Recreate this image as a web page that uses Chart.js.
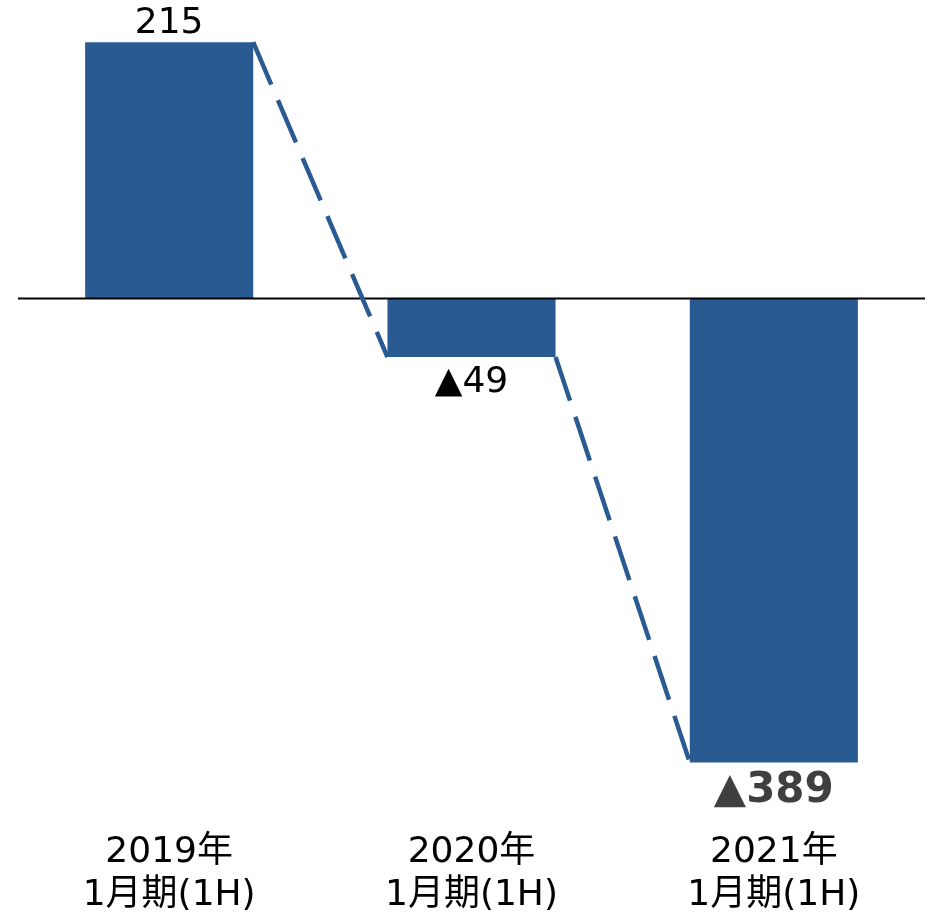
<!DOCTYPE html>
<html>
<head>
<meta charset="utf-8">
<script src="https://cdn.jsdelivr.net/npm/chart.js@4/dist/chart.umd.min.js"></script>
<style>
  html, body { margin: 0; padding: 0; background: #ffffff; }
  #wrap { width: 930px; height: 914px; }
</style>
</head>
<body>
<div id="wrap"><canvas id="c" width="930" height="914"></canvas></div>
<script>
// ---- data ----
const categories = [["2019年", "1月期(1H)"], ["2020年", "1月期(1H)"], ["2021年", "1月期(1H)"]];
const values = [215, -49, -389];

const BAR_COLOR = '#2A5A92';
const FONT = '"DejaVu Sans", "Noto Sans CJK JP", sans-serif';

function fmt(v) { return v < 0 ? '\u25B2' + Math.abs(v) : String(v); }

const decorPlugin = {
  id: 'decor',
  afterDatasetsDraw(chart) {
    const ctx = chart.ctx;
    const meta = chart.getDatasetMeta(0);
    const area = chart.chartArea;
    const y = chart.scales.y;
    // zero line
    const y0 = y.getPixelForValue(0);
    ctx.save();
    ctx.strokeStyle = '#000000';
    ctx.lineWidth = 2;
    ctx.beginPath();
    ctx.moveTo(area.left, y0);
    ctx.lineTo(area.right, y0);
    ctx.stroke();
    // dashed connectors
    ctx.strokeStyle = BAR_COLOR;
    ctx.lineWidth = 4.5;
    ctx.setLineDash([46, 17]);
    ctx.lineCap = 'butt';
    for (let i = 0; i < meta.data.length - 1; i++) {
      const a = meta.data[i], b = meta.data[i + 1];
      ctx.beginPath();
      ctx.moveTo(a.x + a.width / 2, a.y);
      ctx.lineTo(b.x - b.width / 2, b.y);
      ctx.stroke();
    }
    ctx.setLineDash([]);
    // value labels
    ctx.textAlign = 'center';
    meta.data.forEach((el, i) => {
      const v = values[i];
      const last = i === values.length - 1;
      ctx.font = (last ? 'bold 42px ' : '36px ') + FONT;
      ctx.fillStyle = last ? '#3F3F3F' : '#000000';
      if (v >= 0) {
        ctx.textBaseline = 'bottom';
        ctx.fillText(fmt(v), el.x, el.y - 1);
      } else {
        ctx.textBaseline = 'top';
        ctx.fillText(fmt(v), el.x, el.y + 8);
      }
    });
    ctx.restore();
  }
};

new Chart(document.getElementById('c'), {
  type: 'bar',
  data: {
    labels: categories,
    datasets: [{
      data: values,
      backgroundColor: BAR_COLOR,
      borderWidth: 0,
      categoryPercentage: 1.0,
      barPercentage: 0.556
    }]
  },
  options: {
    responsive: false,
    animation: false,
    layout: { padding: { left: 18, right: 5, top: 0, bottom: 0 } },
    plugins: { legend: { display: false }, tooltip: { enabled: false } },
    scales: {
      x: {
        grid: { display: false },
        border: { display: false },
        ticks: {
          color: '#000000',
          font: { family: FONT, size: 36, lineHeight: 1.2 },
          padding: -3,
          maxRotation: 0,
          autoSkip: false
        }
      },
      y: {
        display: false,
        min: -442,
        max: 250.4
      }
    }
  },
  plugins: [decorPlugin]
});
</script>
</body>
</html>
